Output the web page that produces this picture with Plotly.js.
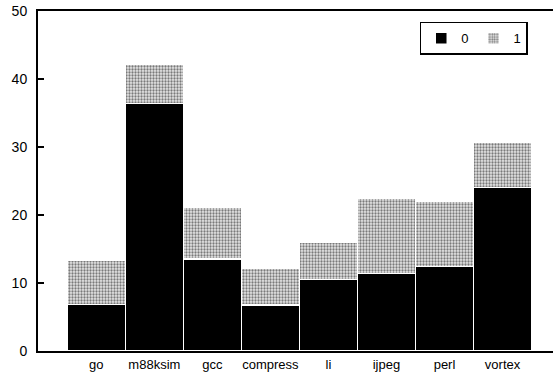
<!DOCTYPE html>
<html>
<head>
<meta charset="utf-8">
<script src="https://cdn.plot.ly/plotly-3.0.1.min.js"></script>
<style>
html,body{margin:0;padding:0;background:#fff;}
#chart{width:553px;height:372px;}
</style>
</head>
<body>
<div id="chart"></div>
<script>
const categories = ["go", "m88ksim", "gcc", "compress", "li", "ijpeg", "perl", "vortex"];
const series0 = [6.85, 36.4, 13.5, 6.75, 10.5, 11.4, 12.4, 24.05];
const series1 = [6.55, 5.8, 7.7, 5.45, 5.45, 11.05, 9.65, 6.65];
const seriesNames = ["0", "1"];
const yTicks = [0, 10, 20, 30, 40, 50];

const traces = [
  {
    type: "bar",
    name: seriesNames[0],
    x: categories,
    y: series0,
    marker: {color: "#000000", line: {color: "#ffffff", width: 1.5}},
    hoverinfo: "x+y+name"
  },
  {
    type: "bar",
    name: seriesNames[1],
    x: categories,
    y: series1,
    marker: {
      color: "#bdbdbd",
      line: {color: "#ffffff", width: 1.5},
      pattern: {shape: ".", size: 3, solidity: 0.45, fgcolor: "#7a7a7a", bgcolor: "#e6e6e6", fillmode: "replace"}
    },
    hoverinfo: "x+y+name"
  }
];

const layout = {
  width: 553,
  height: 372,
  margin: {l: 38, r: 0, t: 11, b: 21, pad: 0},
  barmode: "stack",
  bargap: 0,
  paper_bgcolor: "#ffffff",
  plot_bgcolor: "#ffffff",
  font: {family: "Liberation Sans, Arial, Helvetica, sans-serif", size: 13, color: "#000"},
  showlegend: true,
  legend: {
    orientation: "h",
    x: 0.951, xanchor: "right",
    y: 0.968, yanchor: "top",
    bgcolor: "#ffffff",
    bordercolor: "#000000",
    borderwidth: 1.5,
    font: {size: 13},
    itemwidth: 30,
    traceorder: "normal"
  },
  xaxis: {
    type: "category",
    range: [-1.005, 7.87],
    showline: true,
    linecolor: "#000",
    linewidth: 2,
    mirror: true,
    ticks: "",
    showgrid: false,
    zeroline: false,
    tickfont: {size: 13},
    fixedrange: true
  },
  yaxis: {
    range: [0, 50],
    tickvals: yTicks,
    ticktext: yTicks.map(String),
    showline: true,
    linecolor: "#000",
    linewidth: 2,
    ticks: "inside",
    ticklen: 6,
    tickwidth: 1.5,
    tickcolor: "#000",
    showgrid: false,
    zeroline: false,
    tickfont: {size: 14},
    ticklabelstandoff: 6,
    fixedrange: true
  }
};

Plotly.newPlot("chart", traces, layout, {displayModeBar: false, staticPlot: true});
</script>
</body>
</html>
